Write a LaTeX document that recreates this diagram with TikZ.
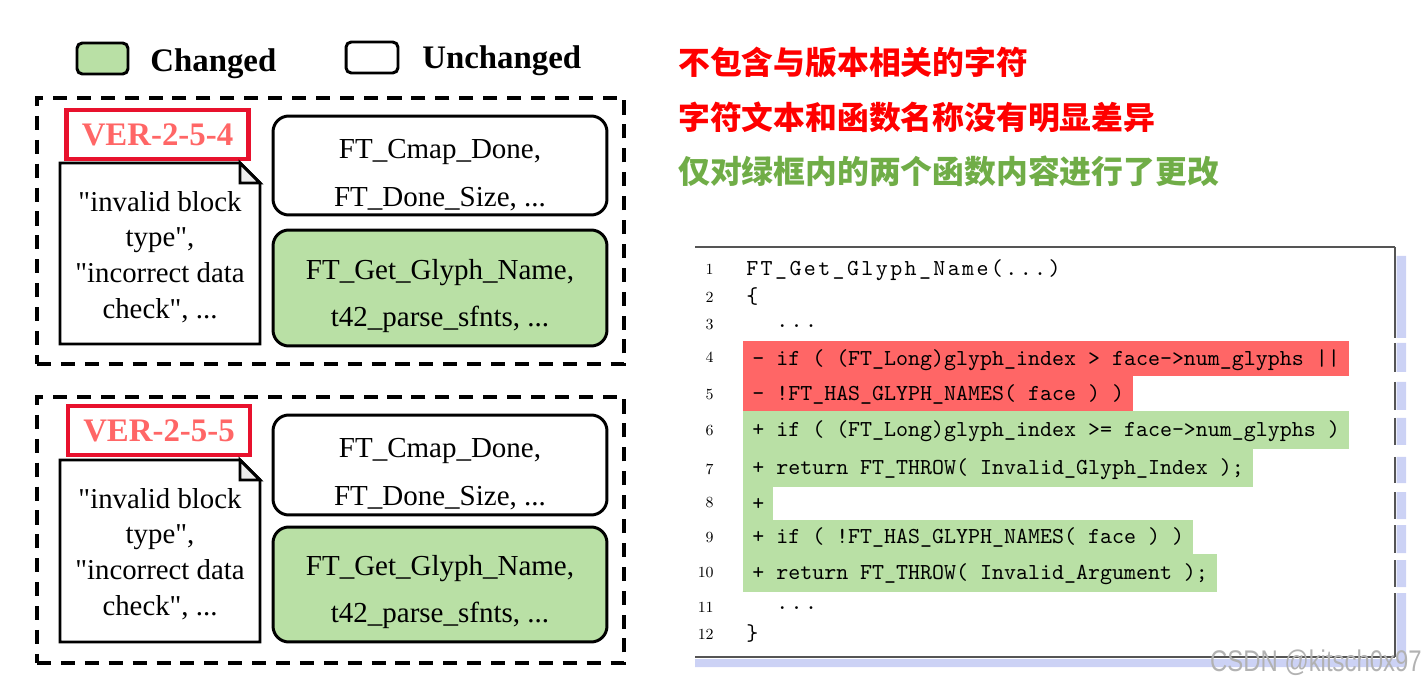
\documentclass[tikz,border=0pt]{standalone}
\usepackage{fontspec}
\newfontfamily\timesfont{Liberation Serif}
\newfontfamily\cjk{Noto Sans CJK SC}
\newfontfamily\marksans{Liberation Sans}
\newfontfamily\codefont{lmmono10-regular.otf}
\definecolor{changedgreen}{RGB}{185,224,165}
\definecolor{verred}{RGB}{232,17,45}
\definecolor{vertext}{RGB}{255,102,102}
\definecolor{delred}{RGB}{255,102,102}
\definecolor{cnred}{RGB}{255,0,0}
\definecolor{cngreen}{RGB}{112,173,71}
\definecolor{framegray}{RGB}{85,85,85}
\definecolor{shadowblue}{RGB}{204,210,245}
\definecolor{foldgray}{RGB}{236,236,236}
\tikzset{
  legendbox/.style={
    draw=black, line width=1.7pt, rounded corners=3pt,
    minimum width=1.02cm, minimum height=0.62cm
  },
  legendtext/.style={
    anchor=base west, inner sep=0pt,
    font=\timesfont\bfseries\fontsize{18.7}{22}\selectfont
  },
  groupbox/.style={
    draw=black, line width=2.3pt, dash pattern=on 8pt off 5.6pt,
    minimum width=11.74cm, minimum height=5.32cm
  },
  verbox/.style={
    draw=verred, line width=2.3pt, inner sep=0pt, text=vertext,
    minimum width=3.64cm, minimum height=0.98cm,
    font=\timesfont\bfseries\fontsize{18.7}{22}\selectfont
  },
  notebox/.style={draw=black, line width=1.7pt, fill=white},
  notetext/.style={
    align=center, inner sep=0pt,
    font=\timesfont\fontsize{16.4}{20.4}\selectfont
  },
  funcbox/.style={
    draw=black, line width=1.7pt, rounded corners=9pt,
    minimum width=6.68cm
  },
  functext/.style={
    align=center, inner sep=0pt,
    font=\timesfont\fontsize{16.5}{27.2}\selectfont
  },
  cnline/.style={
    anchor=west, inner sep=0pt,
    font=\cjk\bfseries\fontsize{18.1}{22}\selectfont
  },
  lineno/.style={
    anchor=east, inner sep=0pt,
    font=\fontsize{8.8}{10}\selectfont
  },
  codeline/.style={
    anchor=west, inner xsep=0pt, inner ysep=0pt,
    text height=9.75pt, text depth=2pt,
    font=\codefont\fontsize{13}{15}\selectfont
  },
  wideline/.style={
    codeline,
    font=\codefont\fontsize{13}{15}\selectfont\addfontfeature{LetterSpace=10.5}
  },
  diffrow/.style={codeline, inner xsep=5.1pt}
}

\begin{document}
\begin{tikzpicture}[x=0.02cm, y=-0.02cm]
\useasboundingbox (0,0) rectangle (1428,689);

%--------------------------------------------------
% Legend
%--------------------------------------------------
\node[legendbox, fill=changedgreen] (legchanged) at (102.5,58.5) {};
\node[legendtext] (legchangedtxt) at (150,72) {Changed};
\node[legendbox, fill=white, minimum width=1.04cm] (legunchanged) at (372,57.5) {};
\node[legendtext] (legunchangedtxt) at (422,69) {Unchanged};

%--------------------------------------------------
% Version 2.5.4
%--------------------------------------------------
\node[groupbox] (grpa) at (330.5,231) {};

\node[verbox] (vera) at (157.5,134.5) {VER-2-5-4};

\draw[notebox] (60,163) -- (240,163) -- (260,183) -- (260,344) -- (60,344) -- cycle;
\draw[notebox, fill=foldgray] (240,163) -- (240,183) -- (260,183) -- cycle;
\node[notetext] (strsa) at (160,257)
{"invalid block\\type",\\"incorrect data\\check", ...};

\node[funcbox, fill=white, minimum height=1.98cm] (unchga) at (440,165.5) {};
\node[functext] (unchgatxt) at (440,175) {FT\_Cmap\_Done,\\FT\_Done\_Size, ...};

\node[funcbox, fill=changedgreen, minimum height=2.32cm] (chga) at (440,288) {};
\node[functext] (chgatxt) at (440,296) {FT\_Get\_Glyph\_Name,\\t42\_parse\_sfnts, ...};

%--------------------------------------------------
% Version 2.5.5
%--------------------------------------------------
\node[groupbox] (grpb) at (330.5,530) {};

\node[verbox] (verb) at (159,430.5) {VER-2-5-5};

\draw[notebox] (60,460) -- (240,460) -- (260,480) -- (260,642) -- (60,642) -- cycle;
\draw[notebox, fill=foldgray] (240,460) -- (240,480) -- (260,480) -- cycle;
\node[notetext] (strsb) at (160,554)
{"invalid block\\type",\\"incorrect data\\check", ...};

\node[funcbox, fill=white, minimum height=2.0cm] (unchgb) at (440,465) {};
\node[functext] (unchgbtxt) at (440,474) {FT\_Cmap\_Done,\\FT\_Done\_Size, ...};

\node[funcbox, fill=changedgreen, minimum height=2.3cm] (chgb) at (440,584.5) {};
\node[functext] (chgbtxt) at (440,592) {FT\_Get\_Glyph\_Name,\\t42\_parse\_sfnts, ...};

%--------------------------------------------------
% Remarks
%--------------------------------------------------
\node[cnline, text=cnred]   (remarka) at (678,62)  {不包含与版本相关的字符};
\node[cnline, text=cnred]   (remarkb) at (678,117) {字符文本和函数名称没有明显差异};
\node[cnline, text=cngreen] (remarkc) at (678,171) {仅对绿框内的两个函数内容进行了更改};

%--------------------------------------------------
% Code listing frame
%--------------------------------------------------
\fill[shadowblue] (1396.5,256) rectangle (1406,338)
                  (1396.5,343) rectangle (1406,372)
                  (1396.5,382) rectangle (1406,410)
                  (1396.5,418) rectangle (1406,445)
                  (1396.5,457) rectangle (1406,483)
                  (1396.5,492) rectangle (1406,519)
                  (1396.5,525) rectangle (1406,553)
                  (1396.5,560) rectangle (1406,587)
                  (1396.5,593) rectangle (1406,667)
                  (695,659) rectangle (1406,667);
\draw[framegray, line width=1pt] (695,247) -- (1395,247);
\draw[framegray, line width=1.4pt]
  (1395,247) -- (1395,338) (1395,343) -- (1395,372)
  (1395,382) -- (1395,410) (1395,418) -- (1395,445)
  (1395,457) -- (1395,483) (1395,492) -- (1395,519)
  (1395,525) -- (1395,553) (1395,560) -- (1395,587)
  (1395,593) -- (1395,657);
\draw[framegray, line width=1.4pt] (695,657) -- (1395,657);

%--------------------------------------------------
% Line numbers
%--------------------------------------------------
\node[lineno] (n1)  at (714,269) {1};
\node[lineno] (n2)  at (714,297) {2};
\node[lineno] (n3)  at (714,325) {3};
\node[lineno] (n4)  at (714,357) {4};
\node[lineno] (n5)  at (714,395) {5};
\node[lineno] (n6)  at (714,431) {6};
\node[lineno] (n7)  at (714,469) {7};
\node[lineno] (n8)  at (714,503) {8};
\node[lineno] (n9)  at (714,538) {9};
\node[lineno] (n10) at (714,573) {10};
\node[lineno] (n11) at (714,607) {11};
\node[lineno] (n12) at (714,634) {12};

%--------------------------------------------------
% Code
%--------------------------------------------------
\node[wideline] (c1) at (746,269) {FT\_Get\_Glyph\_Name(...)};
\node[wideline] (c2) at (746,297) {\{};
\node[wideline] (c3) at (776,321) {...};

\node[diffrow, fill=delred, minimum height=19.8pt] (c4) at (743,358.5)
{- if ( (FT\_Long)glyph\_index > face->num\_glyphs ||};
\node[diffrow, fill=delred, minimum height=19.8pt] (c5) at (743,393.5)
{- !FT\_HAS\_GLYPH\_NAMES( face ) )};
\node[diffrow, fill=changedgreen, minimum height=21.5pt] (c6) at (743,430)
{+ if ( (FT\_Long)glyph\_index >= face->num\_glyphs )};
\node[diffrow, fill=changedgreen, minimum height=21.5pt] (c7) at (743,468)
{+ return FT\_THROW( Invalid\_Glyph\_Index );};
\node[diffrow, fill=changedgreen, minimum height=18.7pt] (c8) at (743,503.5)
{+};
\node[diffrow, fill=changedgreen, minimum height=19.3pt] (c9) at (743,537)
{+ if ( !FT\_HAS\_GLYPH\_NAMES( face ) )};
\node[diffrow, fill=changedgreen, minimum height=21.5pt] (c10) at (743,573)
{+ return FT\_THROW( Invalid\_Argument );};

\node[wideline] (c11) at (776,603) {...};
\node[wideline] (c12) at (746,634) {\}};

%--------------------------------------------------
% Watermark
%--------------------------------------------------
\node[anchor=base east, inner sep=0pt, text=black!30, xscale=0.8,
      font=\marksans\fontsize{17}{20}\selectfont] (mark) at (1422,671)
{CSDN @kitsch0x97};

\end{tikzpicture}
\end{document}
